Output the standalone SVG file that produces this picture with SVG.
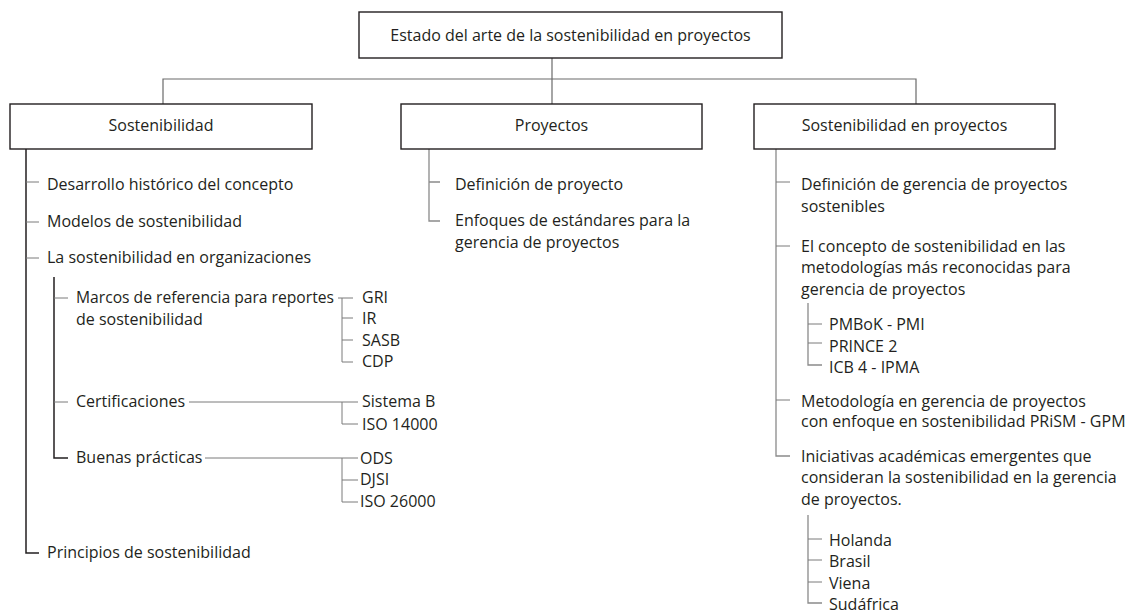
<svg xmlns="http://www.w3.org/2000/svg" width="1137" height="613" viewBox="0 0 1137 613">
  <style>
    text { font-family: "Open Sans", "Noto Sans", "Liberation Sans", sans-serif; font-size: 16px; fill: #231f20; }
    .box { fill: #ffffff; stroke: #231f20; stroke-width: 1.4; }
    .mid { text-anchor: middle; }
    .main { fill: none; stroke: #231f20; stroke-width: 1.5; }
    .trunk { fill: none; stroke: #8a8a8a; stroke-width: 1.3; }
    .tick { fill: none; stroke: #7a7a7a; stroke-width: 1; }
    .link { fill: none; stroke: #6a6a6a; stroke-width: 1.2; }
  </style>
  <rect width="1137" height="613" fill="#ffffff"/>

  <!-- connectors -->
  <g id="connectors">
    <!-- top level fan-out -->
    <path class="link" d="M163 104 V79 H916 V104"/>
    <path class="link" d="M552 58 V104"/>

    <!-- Sostenibilidad branch -->
    <path class="main" d="M26 149 V553 H39"/>
    <path class="tick" d="M26 182 H39 M26 222 H39 M26 258 H39"/>
    <path class="main" d="M54 277 V458 H68"/>
    <path class="tick" d="M54 298 H68 M54 402 H68"/>
    <path class="tick" d="M338 298 H353 M342 298 V362 H353 M342 318 H353 M342 340 H353"/>
    <path class="tick" d="M189 402 H358 M342 402 V424 H358"/>
    <path class="tick" d="M205 458 H358 M342 458 V502 H358 M342 480 H358"/>

    <!-- Proyectos branch -->
    <path class="trunk" d="M429 149 V221 H440 M429 182 H440"/>

    <!-- Sostenibilidad en proyectos branch -->
    <path class="trunk" d="M776 149 V456 H790"/>
    <path class="tick" d="M776 182 H790 M776 246 H790 M776 400 H790"/>
    <path class="trunk" d="M808 303 V365 H822"/>
    <path class="tick" d="M808 324 H822 M808 343 H822"/>
    <path class="trunk" d="M808 515 V603 H822"/>
    <path class="tick" d="M808 539 H822 M808 560 H822 M808 582 H822"/>
  </g>

  <!-- root -->
  <g id="root">
    <rect class="box" x="359" y="12" width="423" height="46"/>
    <text class="mid" x="570.5" y="41">Estado del arte de la sostenibilidad en proyectos</text>
  </g>

  <!-- Sostenibilidad -->
  <g id="sostenibilidad">
    <rect class="box" x="10" y="104" width="302" height="45"/>
    <text class="mid" x="161" y="131">Sostenibilidad</text>
  </g>
  <g id="desarrollo"><text x="47" y="190">Desarrollo histórico del concepto</text></g>
  <g id="modelos"><text x="47" y="227">Modelos de sostenibilidad</text></g>
  <g id="organizaciones"><text x="47" y="263">La sostenibilidad en organizaciones</text></g>
  <g id="marcos">
    <text x="76" y="303" textLength="258" lengthAdjust="spacingAndGlyphs">Marcos de referencia para reportes</text>
    <text x="76" y="325">de sostenibilidad</text>
  </g>
  <g id="gri"><text x="362" y="303">GRI</text></g>
  <g id="ir"><text x="362" y="324">IR</text></g>
  <g id="sasb"><text x="362" y="346">SASB</text></g>
  <g id="cdp"><text x="362" y="367">CDP</text></g>
  <g id="certificaciones"><text x="76" y="407">Certificaciones</text></g>
  <g id="sistema-b"><text x="362" y="407">Sistema B</text></g>
  <g id="iso14000"><text x="362" y="430">ISO 14000</text></g>
  <g id="buenas-practicas"><text x="76" y="463">Buenas prácticas</text></g>
  <g id="ods"><text x="360" y="464">ODS</text></g>
  <g id="djsi"><text x="360" y="485">DJSI</text></g>
  <g id="iso26000"><text x="360" y="507">ISO 26000</text></g>
  <g id="principios"><text x="47" y="558">Principios de sostenibilidad</text></g>

  <!-- Proyectos -->
  <g id="proyectos">
    <rect class="box" x="401" y="104" width="301" height="45"/>
    <text class="mid" x="551.5" y="131">Proyectos</text>
  </g>
  <g id="definicion-proyecto"><text x="455" y="190">Definición de proyecto</text></g>
  <g id="enfoques">
    <text x="455" y="226">Enfoques de estándares para la</text>
    <text x="455" y="248">gerencia de proyectos</text>
  </g>

  <!-- Sostenibilidad en proyectos -->
  <g id="sostenibilidad-proyectos">
    <rect class="box" x="754" y="104" width="301" height="45"/>
    <text class="mid" x="904.5" y="131">Sostenibilidad en proyectos</text>
  </g>
  <g id="definicion-gerencia">
    <text x="801" y="190">Definición de gerencia de proyectos</text>
    <text x="801" y="212">sostenibles</text>
  </g>
  <g id="concepto-metodologias">
    <text x="801" y="252">El concepto de sostenibilidad en las</text>
    <text x="801" y="273">metodologías más reconocidas para</text>
    <text x="801" y="295">gerencia de proyectos</text>
  </g>
  <g id="pmbok"><text x="829" y="330">PMBoK - PMI</text></g>
  <g id="prince2"><text x="829" y="352">PRINCE 2</text></g>
  <g id="icb4"><text x="829" y="373">ICB 4 - IPMA</text></g>
  <g id="prism">
    <text x="801" y="407">Metodología en gerencia de proyectos</text>
    <text x="801" y="427">con enfoque en sostenibilidad PRiSM - GPM</text>
  </g>
  <g id="iniciativas">
    <text x="801" y="462">Iniciativas académicas emergentes que</text>
    <text x="801" y="483">consideran la sostenibilidad en la gerencia</text>
    <text x="801" y="505">de proyectos.</text>
  </g>
  <g id="holanda"><text x="829" y="546">Holanda</text></g>
  <g id="brasil"><text x="829" y="567">Brasil</text></g>
  <g id="viena"><text x="829" y="589">Viena</text></g>
  <g id="sudafrica"><text x="829" y="610">Sudáfrica</text></g>
</svg>
